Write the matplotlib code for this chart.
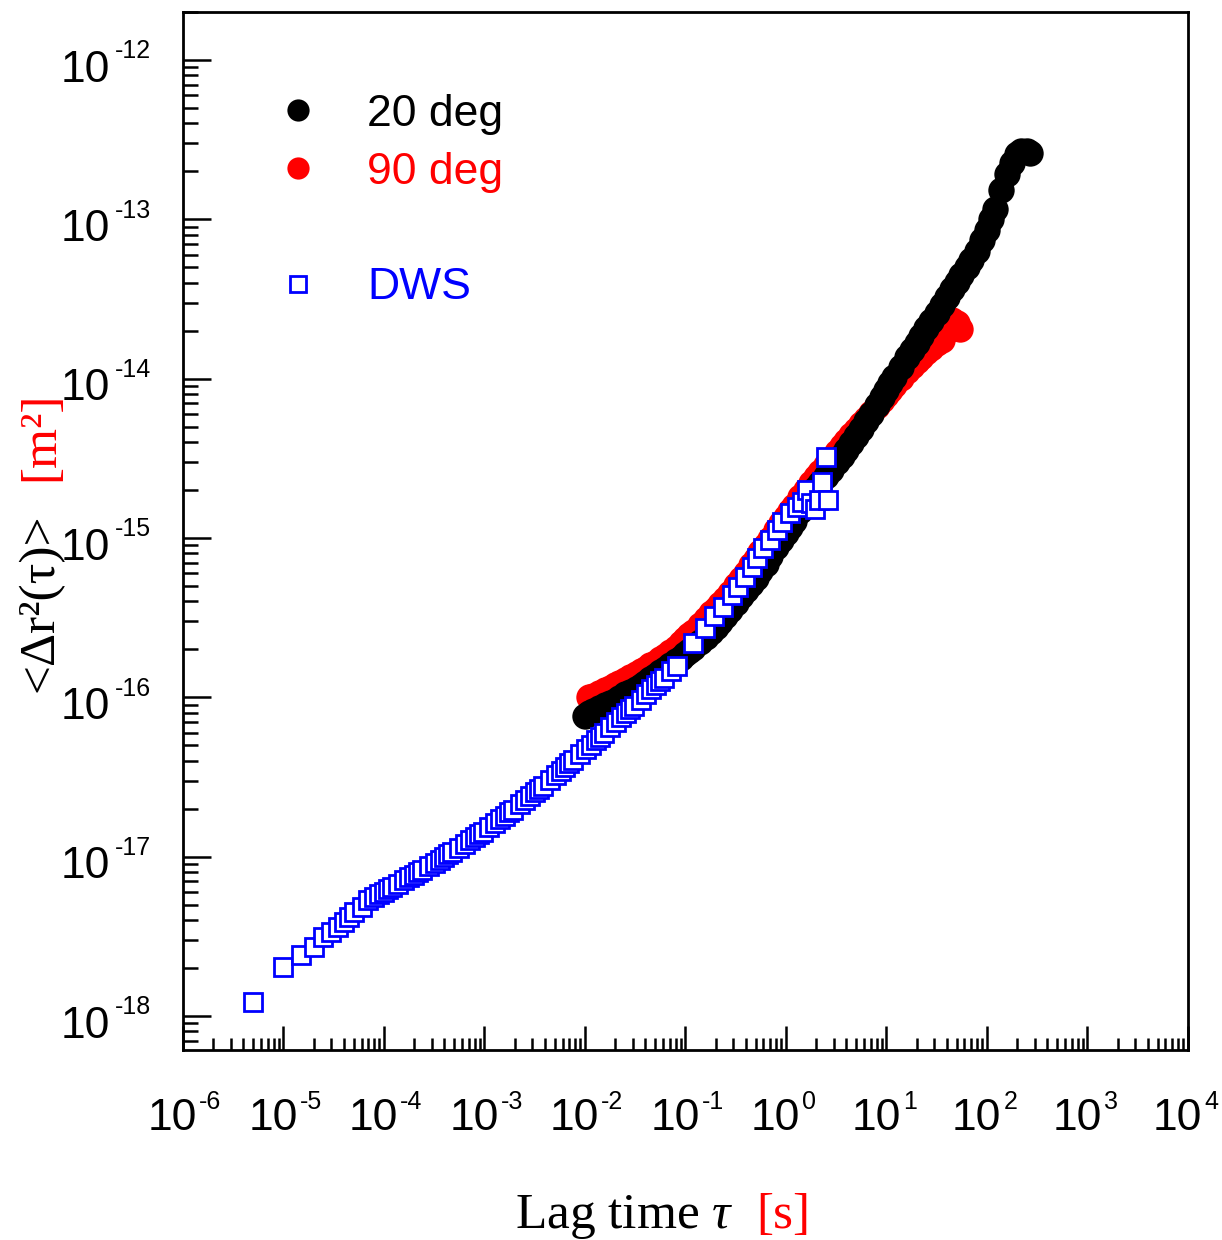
import numpy as np
import matplotlib
matplotlib.use("Agg")
import matplotlib.pyplot as plt
from matplotlib.lines import Line2D
from matplotlib.ticker import LogLocator, NullFormatter

plt.rcParams['font.family'] = 'Liberation Sans'
plt.rcParams['mathtext.fontset'] = 'custom'
plt.rcParams['mathtext.rm'] = 'Liberation Serif'
plt.rcParams['mathtext.it'] = 'Liberation Serif:italic'

# MSD at 20 deg (lag time in s, MSD in m^2)
black_t = [0.010, 0.011, 0.012, 0.014, 0.016, 0.018, 0.020, 0.022, 0.025, 0.028,
           0.032, 0.036, 0.040, 0.045, 0.050, 0.056, 0.063, 0.070, 0.080, 0.090,
           0.10, 0.11, 0.12, 0.14, 0.16, 0.18, 0.20, 0.22, 0.25, 0.28,
           0.32, 0.36, 0.40, 0.45, 0.50, 0.56, 0.63, 0.70, 0.80, 0.90,
           1.0, 1.1, 1.2, 1.4, 1.6, 1.8, 2.0, 2.2, 2.5, 2.8,
           3.2, 3.6, 4.0, 4.5, 5.0, 5.6, 6.3, 7.0, 8.0, 9.0,
           10, 11, 12, 14, 16, 18, 20, 22, 25, 28,
           32, 36, 40, 45, 50, 56, 63, 70, 80, 90,
           100, 110, 120, 140, 160, 180, 200, 220, 250, 270]
black_msd = [7.67e-17, 7.94e-17, 8.19e-17, 8.59e-17, 8.94e-17, 9.26e-17, 9.55e-17, 9.93e-17, 1.045e-16, 1.081e-16,
             1.127e-16, 1.183e-16, 1.233e-16, 1.30e-16, 1.365e-16, 1.436e-16, 1.514e-16, 1.585e-16, 1.683e-16, 1.774e-16,
             1.862e-16, 1.954e-16, 2.04e-16, 2.213e-16, 2.39e-16, 2.576e-16, 2.76e-16, 2.95e-16, 3.23e-16, 3.53e-16,
             3.93e-16, 4.32e-16, 4.70e-16, 5.16e-16, 5.61e-16, 6.21e-16, 6.90e-16, 7.67e-16, 8.77e-16, 9.75e-16,
             1.072e-15, 1.178e-15, 1.285e-15, 1.483e-15, 1.675e-15, 1.862e-15, 2.05e-15, 2.21e-15, 2.44e-15, 2.68e-15,
             2.98e-15, 3.27e-15, 3.56e-15, 3.96e-15, 4.36e-15, 4.85e-15, 5.42e-15, 6.00e-15, 6.81e-15, 7.66e-15,
             8.51e-15, 9.36e-15, 1.021e-14, 1.19e-14, 1.36e-14, 1.52e-14, 1.68e-14, 1.84e-14, 2.08e-14, 2.31e-14,
             2.60e-14, 2.92e-14, 3.25e-14, 3.66e-14, 4.06e-14, 4.50e-14, 5.00e-14, 5.56e-14, 6.37e-14, 7.41e-14,
             8.51e-14, 1.00e-13, 1.16e-13, 1.52e-13, 1.93e-13, 2.25e-13, 2.58e-13, 2.70e-13, 2.70e-13, 2.60e-13]

# MSD at 90 deg
red_t = [0.011, 0.012, 0.014, 0.016, 0.018, 0.020, 0.022, 0.025, 0.028,
         0.032, 0.036, 0.040, 0.045, 0.050, 0.056, 0.063, 0.070, 0.080, 0.090,
         0.10, 0.11, 0.12, 0.14, 0.16, 0.18, 0.20, 0.22, 0.25, 0.28,
         0.32, 0.36, 0.40, 0.45, 0.50, 0.56, 0.63, 0.70, 0.80, 0.90,
         1.0, 1.1, 1.2, 1.4, 1.6, 1.8, 2.0, 2.2, 2.5, 2.8,
         3.2, 3.6, 4.0, 4.5, 5.0, 5.6, 6.3, 7.0, 8.0, 9.0,
         10, 11, 12, 14, 16, 18, 20, 22, 25, 28,
         32, 36, 40, 45, 50, 54]
red_msd = [1.003e-16, 1.026e-16, 1.069e-16, 1.109e-16, 1.151e-16, 1.189e-16, 1.230e-16, 1.285e-16, 1.337e-16,
           1.40e-16, 1.459e-16, 1.517e-16, 1.585e-16, 1.648e-16, 1.73e-16, 1.82e-16, 1.92e-16, 2.05e-16, 2.19e-16,
           2.32e-16, 2.45e-16, 2.58e-16, 2.84e-16, 3.11e-16, 3.36e-16, 3.60e-16, 3.83e-16, 4.16e-16, 4.55e-16,
           5.06e-16, 5.56e-16, 6.05e-16, 6.73e-16, 7.40e-16, 8.15e-16, 9.0e-16, 9.91e-16, 1.117e-15, 1.239e-15,
           1.36e-15, 1.479e-15, 1.592e-15, 1.807e-15, 2.01e-15, 2.21e-15, 2.40e-15, 2.59e-15, 2.87e-15, 3.13e-15,
           3.45e-15, 3.78e-15, 4.08e-15, 4.44e-15, 4.78e-15, 5.18e-15, 5.62e-15, 6.08e-15, 6.72e-15, 7.35e-15,
           7.94e-15, 8.53e-15, 9.10e-15, 1.016e-14, 1.117e-14, 1.205e-14, 1.29e-14, 1.365e-14, 1.476e-14, 1.563e-14,
           1.667e-14, 1.76e-14, 2.0e-14, 2.34e-14, 2.24e-14, 2.04e-14]

# DWS (multi-tau correlator lag times)
dws_t = [5e-6, 1e-5, 1.5e-5, 2e-5, 2.5e-5, 3e-5, 3.5e-5, 4e-5, 4.5e-5, 5e-5, 6e-5, 7e-5,
         8e-5, 9e-5, 1e-4, 1.1e-4, 1.2e-4, 1.4e-4, 1.6e-4, 1.8e-4, 2e-4, 2.2e-4, 2.4e-4, 2.8e-4,
         3.2e-4, 3.6e-4, 4e-4, 4.4e-4, 4.8e-4, 5.6e-4, 6.4e-4, 7.2e-4, 8e-4, 8.8e-4, 9.6e-4,
         1.12e-3, 1.28e-3, 1.44e-3, 1.6e-3, 1.76e-3, 1.92e-3, 2.24e-3, 2.56e-3, 2.88e-3, 3.2e-3,
         3.52e-3, 3.84e-3, 4.48e-3, 5.12e-3, 5.76e-3, 6.4e-3, 7.04e-3, 7.68e-3, 8.96e-3,
         1.024e-2, 1.152e-2, 1.28e-2, 1.408e-2, 1.536e-2, 1.792e-2, 2.048e-2, 2.304e-2, 2.56e-2,
         2.816e-2, 3.072e-2, 3.584e-2, 4.096e-2, 4.608e-2, 5.12e-2, 5.632e-2, 6.144e-2, 7.168e-2, 8.192e-2,
         0.119, 0.157, 0.193, 0.237, 0.292, 0.335, 0.393, 0.461, 0.517, 0.593, 0.696, 0.817,
         0.917, 1.10, 1.29, 1.45, 1.63, 1.78, 1.95, 2.14, 2.29, 2.51, 2.63]
dws_msd = [1.23e-18, 2.03e-18, 2.41e-18, 2.72e-18, 3.14e-18, 3.38e-18, 3.63e-18, 3.90e-18, 4.19e-18, 4.50e-18, 4.84e-18, 5.33e-18,
           5.58e-18, 5.81e-18, 6.03e-18, 6.23e-18, 6.43e-18, 6.78e-18, 7.10e-18, 7.41e-18, 7.69e-18, 7.96e-18, 8.22e-18, 8.71e-18,
           9.16e-18, 9.57e-18, 9.97e-18, 1.035e-17, 1.072e-17, 1.14e-17, 1.205e-17, 1.268e-17, 1.325e-17, 1.38e-17, 1.432e-17,
           1.538e-17, 1.633e-17, 1.726e-17, 1.81e-17, 1.897e-17, 1.977e-17, 2.13e-17, 2.275e-17, 2.415e-17, 2.547e-17,
           2.673e-17, 2.793e-17, 3.027e-17, 3.25e-17, 3.46e-17, 3.66e-17, 3.85e-17, 4.05e-17, 4.41e-17,
           4.74e-17, 5.06e-17, 5.37e-17, 5.66e-17, 5.94e-17, 6.49e-17, 7.00e-17, 7.50e-17, 7.96e-17,
           8.41e-17, 8.85e-17, 9.68e-17, 1.045e-16, 1.122e-16, 1.194e-16, 1.262e-16, 1.328e-16, 1.455e-16, 1.578e-16,
           2.19e-16, 2.72e-16, 3.23e-16, 3.68e-16, 4.38e-16, 4.92e-16, 5.69e-16, 6.57e-16, 7.48e-16, 8.65e-16, 9.71e-16, 1.12e-15,
           1.26e-15, 1.43e-15, 1.56e-15, 1.68e-15, 2.00e-15, 1.66e-15, 1.52e-15, 1.73e-15, 2.24e-15, 3.22e-15, 1.73e-15]

legend_labels = ['20 deg', '90 deg', ' ', 'DWS']
legend_colors = ['black', 'red', 'black', 'blue']
x_decades = list(range(-6, 5))
y_decades = list(range(-18, -11))

PX = 0.72  # points per pixel at dpi 100

fig = plt.figure(figsize=(12.22, 12.40), dpi=100)
ax = fig.add_axes([0.1496, 0.1532, 0.8224, 0.8374])

ax.plot(red_t, red_msd, ls='none', marker='o', ms=19, color='red', mec='none', zorder=2)
ax.plot(black_t, black_msd, ls='none', marker='o', ms=19, color='black', mec='none', zorder=3)
ax.plot(dws_t, dws_msd, ls='none', marker='s', ms=12.5, mfc='white', mec='blue', mew=2, zorder=4)

ax.set_xscale('log')
ax.set_yscale('log')
ax.set_xlim(1e-6, 1e4)
ax.set_ylim(6.12e-19, 2.01e-12)

for axis in (ax.xaxis, ax.yaxis):
    axis.set_major_locator(LogLocator(base=10, numticks=30))
    axis.set_minor_locator(LogLocator(base=10, subs=np.arange(2, 10), numticks=30))
    axis.set_minor_formatter(NullFormatter())

ax.tick_params(which='both', direction='in', top=False, right=False,
               labelbottom=False, labelleft=False, width=1.8)
ax.tick_params(axis='y', which='major', length=20)
ax.tick_params(axis='y', which='minor', length=11)
ax.tick_params(axis='x', which='major', length=17)
ax.tick_params(axis='x', which='minor', length=8.5)
for s in ax.spines.values():
    s.set_linewidth(2)

# decade labels: "10" plus a small raised exponent
for e in x_decades:
    ax.annotate('10', xy=(10.0 ** e, 0), xycoords=('data', 'axes fraction'),
                xytext=(-10 * PX, -80 * PX), textcoords='offset points',
                ha='center', va='baseline', fontsize=32)
    ax.annotate(str(e), xy=(10.0 ** e, 0), xycoords=('data', 'axes fraction'),
                xytext=(16.5 * PX, -58.7 * PX), textcoords='offset points',
                ha='left', va='baseline', fontsize=18)
for e in y_decades:
    ax.annotate('10', xy=(0, 10.0 ** e), xycoords=('axes fraction', 'data'),
                xytext=(-72.8 * PX, -21.7 * PX), textcoords='offset points',
                ha='right', va='baseline', fontsize=32)
    ax.annotate(str(e), xy=(0, 10.0 ** e), xycoords=('axes fraction', 'data'),
                xytext=(-67.8 * PX, 1.7 * PX), textcoords='offset points',
                ha='left', va='baseline', fontsize=18)

handles = [
    Line2D([], [], ls='none', marker='o', ms=16, color='black', mec='none'),
    Line2D([], [], ls='none', marker='o', ms=16, color='red', mec='none'),
    Line2D([], [], ls='none'),
    Line2D([], [], ls='none', marker='s', ms=12, mfc='white', mec='blue', mew=2),
]
leg = ax.legend(handles, legend_labels, loc='upper left', bbox_to_anchor=(0.0925, 0.921),
                frameon=False, fontsize=32, handlelength=1.0, handletextpad=1.05,
                labelspacing=0.38, borderpad=0, borderaxespad=0, numpoints=1)
for txt, c in zip(leg.get_texts(), legend_colors):
    txt.set_color(c)

serif = 'Liberation Serif'
fig.text(515 / 1222, 1 - 1228 / 1240, r'Lag time $\tau$', fontsize=37, family=serif,
         ha='left', va='baseline')
fig.text(756 / 1222, 1 - 1228 / 1240, '[s]', fontsize=37, family=serif, color='red',
         ha='left', va='baseline')
fig.text(53 / 1222, 1 - 603 / 1240, '<Δr²(τ)>', fontsize=37, family=serif,
         rotation=90, rotation_mode='anchor', ha='center', va='baseline')
fig.text(53 / 1222, 1 - 436 / 1240, '[m²]', fontsize=37, family=serif, color='red',
         rotation=90, rotation_mode='anchor', ha='center', va='baseline')

fig.savefig('out.png', dpi=100)
